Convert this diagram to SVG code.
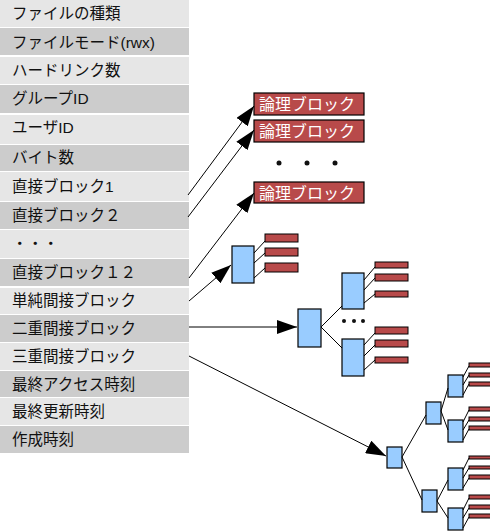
<svg xmlns="http://www.w3.org/2000/svg" width="490" height="531" viewBox="0 0 490 531">
<style>
.lt{fill:#e6e6e6}
.dk{fill:#cccccc}
.tx{font-family:"Liberation Sans","Noto Sans CJK JP",sans-serif;font-size:15.5px;fill:#111}
.lb{fill:#b84a4a;stroke:#000;stroke-width:1.2}
.lbt{font-family:"Liberation Serif","Noto Sans CJK JP",serif;font-size:16px;fill:#fff}
.ib{fill:#99ccff;stroke:#000;stroke-width:1.2}
.rb{fill:#b84a4a;stroke:#000;stroke-width:1}
.ln{stroke:#000;stroke-width:1;fill:none}
.ar{stroke:#000;stroke-width:1;fill:none;marker-end:url(#ah)}
.dot{fill:#111}
</style>
<defs>
<marker id="ah" markerUnits="userSpaceOnUse" markerWidth="20" markerHeight="14" refX="20" refY="7" orient="auto">
<path d="M0,0 L20,7 L0,14 z" fill="#000"/>
</marker>
</defs>
<rect width="490" height="531" fill="#fff"/>
<g id="inode">
<g id="f0"><rect class="lt" x="0" y="0" width="189" height="27"/><text class="tx" x="12" y="19">ファイルの種類</text></g>
<g id="f1"><rect class="dk" x="0" y="28" width="189" height="27"/><text class="tx" x="12" y="48">ファイルモード(rwx)</text></g>
<g id="f2"><rect class="lt" x="0" y="57" width="189" height="27"/><text class="tx" x="12" y="76">ハードリンク数</text></g>
<g id="f3"><rect class="dk" x="0" y="85" width="189" height="28"/><text class="tx" x="12" y="104">グループID</text></g>
<g id="f4"><rect class="lt" x="0" y="115" width="189" height="29"/><text class="tx" x="12" y="133">ユーザID</text></g>
<g id="f5"><rect class="dk" x="0" y="145" width="189" height="26"/><text class="tx" x="12" y="163">バイト数</text></g>
<g id="f6"><rect class="lt" x="0" y="172" width="189" height="29"/><text class="tx" x="12" y="192">直接ブロック1</text></g>
<g id="f7"><rect class="dk" x="0" y="202" width="189" height="27"/><text class="tx" x="12" y="221">直接ブロック２</text></g>
<g id="f8"><rect class="lt" x="0" y="230" width="189" height="28"/><text class="tx" x="12" y="249">・・・</text></g>
<g id="f9"><rect class="dk" x="0" y="259" width="189" height="27"/><text class="tx" x="12" y="278">直接ブロック１２</text></g>
<g id="f10"><rect class="lt" x="0" y="288" width="189" height="26"/><text class="tx" x="12" y="306">単純間接ブロック</text></g>
<g id="f11"><rect class="dk" x="0" y="315" width="189" height="27"/><text class="tx" x="12" y="334">二重間接ブロック</text></g>
<g id="f12"><rect class="lt" x="0" y="343" width="189" height="27"/><text class="tx" x="12" y="362">三重間接ブロック</text></g>
<g id="f13"><rect class="dk" x="0" y="371" width="189" height="26"/><text class="tx" x="12" y="390">最終アクセス時刻</text></g>
<g id="f14"><rect class="lt" x="0" y="398" width="189" height="27"/><text class="tx" x="12" y="417">最終更新時刻</text></g>
<g id="f15"><rect class="dk" x="0" y="426" width="189" height="27"/><text class="tx" x="12" y="445">作成時刻</text></g>
</g>
<g id="logical-blocks">
<g id="lb1"><rect class="lb" x="254" y="93" width="110" height="22"/><text class="lbt" x="259" y="110">論理ブロック</text></g>
<g id="lb2"><rect class="lb" x="254" y="120" width="110" height="22"/><text class="lbt" x="259" y="137">論理ブロック</text></g>
<g id="lbdots"><circle class="dot" cx="279" cy="163" r="2.5"/><circle class="dot" cx="307" cy="163" r="2.5"/><circle class="dot" cx="335" cy="163" r="2.5"/></g>
<g id="lb3"><rect class="lb" x="254" y="182" width="110" height="21"/><text class="lbt" x="259" y="199">論理ブロック</text></g>
</g>
<g id="single-indirect">
<rect class="ib" x="232" y="246" width="22" height="37"/>
<rect class="rb" x="265" y="234" width="33" height="8"/>
<rect class="rb" x="265" y="248" width="33" height="8"/>
<rect class="rb" x="265" y="263" width="33" height="9"/>
</g>
<g id="double-indirect">
<rect class="ib" x="298" y="309" width="23" height="38"/>
<rect class="ib" x="342" y="273" width="22" height="36"/>
<rect class="ib" x="342" y="339" width="22" height="37"/>
<circle class="dot" cx="344" cy="321" r="2"/><circle class="dot" cx="354" cy="321" r="2"/><circle class="dot" cx="363" cy="321" r="2"/>
<rect class="rb" x="375" y="262" width="33" height="6"/>
<rect class="rb" x="375" y="274" width="33" height="7"/>
<rect class="rb" x="375" y="291" width="33" height="6"/>
<rect class="rb" x="375" y="327" width="33" height="7"/>
<rect class="rb" x="375" y="340" width="33" height="7"/>
<rect class="rb" x="375" y="357" width="33" height="6"/>
</g>
<g id="triple-indirect">
<rect class="ib" x="387" y="447" width="15" height="21"/>
<rect class="ib" x="426" y="402" width="15" height="22"/>
<rect class="ib" x="422" y="490" width="15" height="22"/>
<rect class="ib" x="448" y="375" width="15" height="22"/>
<rect class="ib" x="448" y="420" width="15" height="22"/>
<rect class="ib" x="448" y="468" width="15" height="22"/>
<rect class="ib" x="448" y="508" width="15" height="22"/>
<rect class="rb" x="469" y="363" width="24" height="4"/>
<rect class="rb" x="469" y="373" width="24" height="4"/>
<rect class="rb" x="469" y="382" width="24" height="4"/>
<rect class="rb" x="469" y="407" width="24" height="4"/>
<rect class="rb" x="469" y="417" width="24" height="4"/>
<rect class="rb" x="469" y="426" width="24" height="4"/>
<rect class="rb" x="469" y="456" width="24" height="3"/>
<rect class="rb" x="469" y="466" width="24" height="3"/>
<rect class="rb" x="469" y="475" width="24" height="4"/>
<rect class="rb" x="469" y="495" width="24" height="4"/>
<rect class="rb" x="469" y="505" width="24" height="4"/>
<rect class="rb" x="469" y="514" width="24" height="4"/>
</g>
<g id="connectors">
<line class="ar" x1="188" y1="195" x2="254" y2="106"/>
<line class="ar" x1="188" y1="217" x2="254" y2="130"/>
<line class="ar" x1="189" y1="278" x2="254" y2="193"/>
<line class="ar" x1="189" y1="301" x2="231" y2="265"/>
<line class="ar" x1="189" y1="327" x2="297" y2="327"/>
<line class="ar" x1="189" y1="356" x2="386" y2="456"/>
<line class="ln" x1="254" y1="253" x2="265" y2="241"/>
<line class="ln" x1="254" y1="263" x2="265" y2="253"/>
<line class="ln" x1="254" y1="278" x2="265" y2="268"/>
<line class="ln" x1="321" y1="327" x2="342" y2="306"/>
<line class="ln" x1="321" y1="327" x2="342" y2="348"/>
<line class="ln" x1="364" y1="280" x2="375" y2="267"/>
<line class="ln" x1="364" y1="290" x2="375" y2="278"/>
<line class="ln" x1="364" y1="303" x2="375" y2="294"/>
<line class="ln" x1="364" y1="345" x2="375" y2="333"/>
<line class="ln" x1="364" y1="356" x2="375" y2="345"/>
<line class="ln" x1="364" y1="370" x2="375" y2="360"/>
<line class="ln" x1="402" y1="457" x2="426" y2="415"/>
<line class="ln" x1="402" y1="457" x2="422" y2="500"/>
<line class="ln" x1="441" y1="411" x2="448" y2="388"/>
<line class="ln" x1="441" y1="411" x2="448" y2="430"/>
<line class="ln" x1="437" y1="501" x2="448" y2="480"/>
<line class="ln" x1="437" y1="501" x2="448" y2="518"/>
<line class="ln" x1="463" y1="377" x2="469" y2="366"/>
<line class="ln" x1="463" y1="385" x2="469" y2="375"/>
<line class="ln" x1="463" y1="395" x2="469" y2="384"/>
<line class="ln" x1="463" y1="422" x2="469" y2="410"/>
<line class="ln" x1="463" y1="430" x2="469" y2="420"/>
<line class="ln" x1="463" y1="440" x2="469" y2="429"/>
<line class="ln" x1="463" y1="470" x2="469" y2="458"/>
<line class="ln" x1="463" y1="478" x2="469" y2="468"/>
<line class="ln" x1="463" y1="488" x2="469" y2="478"/>
<line class="ln" x1="463" y1="510" x2="469" y2="498"/>
<line class="ln" x1="463" y1="518" x2="469" y2="508"/>
<line class="ln" x1="463" y1="528" x2="469" y2="517"/>
</g>
</svg>
